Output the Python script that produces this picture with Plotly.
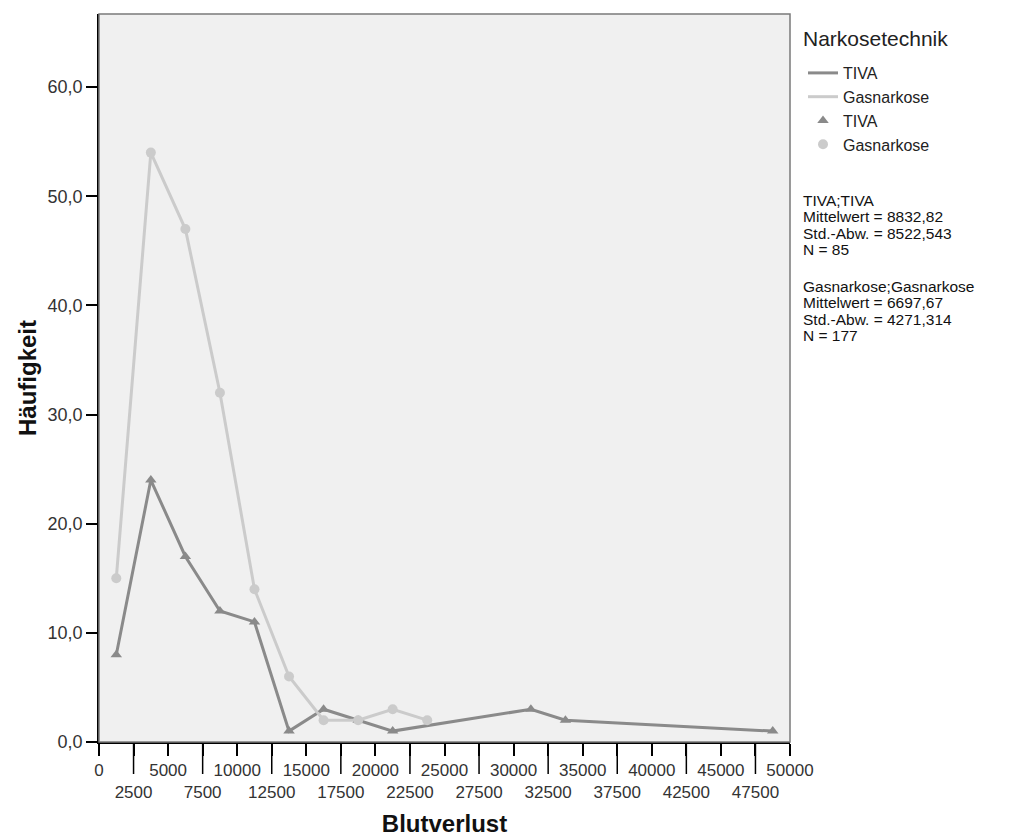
import plotly.graph_objects as go

# ---- data ----
tiva_x = [1250, 3750, 6250, 8750, 11250, 13750, 16250, 18750, 21250, 31250, 33750, 48750]
tiva_y = [8, 24, 17, 12, 11, 1, 3, 2, 1, 3, 2, 1]
gas_x = [1250, 3750, 6250, 8750, 11250, 13750, 16250, 18750, 21250, 23750]
gas_y = [15, 54, 47, 32, 14, 6, 2, 2, 3, 2]

x_ticks = list(range(0, 50001, 2500))
y_ticks = [0, 10, 20, 30, 40, 50, 60]
y_ticktext = ["0,0", "10,0", "20,0", "30,0", "40,0", "50,0", "60,0"]

stats_tiva = ["TIVA;TIVA", "Mittelwert = 8832,82", "Std.-Abw. = 8522,543", "N = 85"]
stats_gas = ["Gasnarkose;Gasnarkose", "Mittelwert = 6697,67", "Std.-Abw. = 4271,314", "N = 177"]

# ---- styling ----
W, H = 1016, 837
ML, MR, MT, MB = 99, 226, 14, 95
PW, PH = W - ML - MR, H - MT - MB
C_TIVA = "#8a8a8a"
C_GAS = "#cbcbcb"
FONT = "Liberation Sans, Arial, sans-serif"

def px_x(p):
    return (p - ML) / PW

def px_y(p):
    return 1 - (p - MT) / PH

fig = go.Figure()
fig.add_trace(go.Scatter(x=tiva_x, y=tiva_y, mode="lines", name="TIVA",
                         line=dict(color=C_TIVA, width=3), legendrank=1))
fig.add_trace(go.Scatter(x=gas_x, y=gas_y, mode="lines", name="Gasnarkose",
                         line=dict(color=C_GAS, width=3), legendrank=2))
fig.add_trace(go.Scatter(x=tiva_x, y=tiva_y, mode="markers", name="TIVA",
                         marker=dict(color=C_TIVA, symbol="triangle-up", size=10), legendrank=3))
fig.add_trace(go.Scatter(x=gas_x, y=gas_y, mode="markers", name="Gasnarkose",
                         marker=dict(color=C_GAS, symbol="circle", size=10), legendrank=4))

x_ticktext = [str(v) if i % 2 == 0 else "<br>" + str(v) for i, v in enumerate(x_ticks)]

fig.update_xaxes(range=[0, 50000], tickmode="array", tickvals=x_ticks, ticktext=x_ticktext,
                 tickangle=0, automargin=False,
                 ticks="outside", ticklen=12, tickcolor="#000", tickwidth=1.5,
                 showline=True, linecolor="#000", linewidth=1.5, showgrid=False, zeroline=False,
                 tickfont=dict(family=FONT, size=17, color="#333"),
                 title=dict(text="<b>Blutverlust</b>", font=dict(family=FONT, size=24, color="#111"),
                            standoff=16))
fig.update_yaxes(range=[0, 66.7], tickmode="array", tickvals=y_ticks, ticktext=y_ticktext,
                 automargin=False,
                 ticks="outside", ticklen=11, tickcolor="#000", tickwidth=1.5,
                 showline=True, linecolor="#000", linewidth=1.5, showgrid=False, zeroline=False,
                 tickfont=dict(family=FONT, size=18, color="#333"),
                 title=dict(text="<b>Häufigkeit</b>", font=dict(family=FONT, size=24, color="#111"),
                            standoff=4))

# longer ticks for the staggered labels
for i, v in enumerate(x_ticks):
    if i % 2 == 1:
        fig.add_shape(type="line", xref="x", yref="paper", x0=v, x1=v, y0=0, y1=-32 / PH,
                      line=dict(color="#000", width=1.5))

# plot frame (top/right grey)
fig.add_shape(type="rect", xref="paper", yref="paper", x0=0, x1=1, y0=0, y1=1,
              line=dict(color="#7a7a7a", width=1.5))

# legend title
fig.add_annotation(text="Narkosetechnik", xref="paper", yref="paper", x=px_x(801), y=px_y(38),
                   xanchor="left", yanchor="middle", showarrow=False,
                   font=dict(family=FONT, size=21, color="#222"))

# stats text
for start, lines in ((200, stats_tiva), (286, stats_gas)):
    for i, t in enumerate(lines):
        fig.add_annotation(text=t, xref="paper", yref="paper", x=px_x(801), y=px_y(start + i * 16.5),
                           xanchor="left", yanchor="middle", showarrow=False,
                           font=dict(family=FONT, size=15.5, color="#111"))

fig.update_layout(
    width=W, height=H,
    margin=dict(l=ML, r=MR, t=MT, b=MB),
    paper_bgcolor="#ffffff", plot_bgcolor="#f0f0f0",
    legend=dict(font=dict(family=FONT, size=16, color="#222"),
                xref="container", yref="container", x=803 / W, y=1 - 56 / H,
                xanchor="left", yanchor="top", bgcolor="rgba(0,0,0,0)",
                tracegroupgap=0, itemwidth=30),
    showlegend=True,
)

fig.write_html("out.html")
